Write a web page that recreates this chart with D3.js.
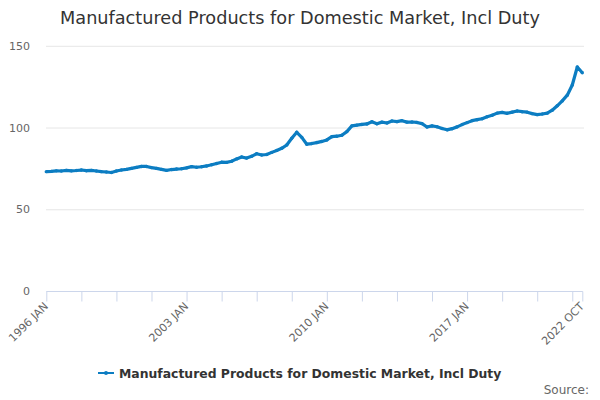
<!DOCTYPE html>
<html><head><meta charset="utf-8">
<script src="https://cdn.jsdelivr.net/npm/d3@7/dist/d3.min.js"></script>
<style>body{margin:0;background:#fff;} svg{display:block;font-family:"DejaVu Sans",sans-serif;}</style>
</head><body><svg id="c" width="600" height="400"></svg>
<script>
const title = "Manufactured Products for Domestic Market, Incl Duty";
const seriesName = "Manufactured Products for Domestic Market, Incl Duty";
const startYear = 1996;
// quarterly readings (Jan, Apr, Jul, Oct) from 1996 JAN to 2022 OCT
const values = [
73.0,73.2,73.5,73.4, 73.8,73.5,73.7,74.0, 73.6,73.8,73.4,73.0, 72.8,72.5,73.4,74.0,
74.4,75.0,75.6,76.2, 76.2,75.5,75.0,74.4, 73.8,74.3,74.6,74.8, 75.3,76.1,75.7,76.0,
76.5,77.2,78.0,78.8, 78.7,79.4,80.8,82.0, 81.3,82.4,84.0,83.2, 83.5,84.8,86.0,87.3,
89.3,93.4,97.1,94.0, 89.8,90.2,90.8,91.5, 92.4,94.4,94.7,95.3, 97.5,101.0,101.5,101.9,
102.2,103.5,102.3,103.3, 102.8,104.0,103.6,104.2, 103.3,103.4,103.1,102.4, 100.3,101.0,100.5,99.4,
98.6,99.3,100.4,101.8, 103.0,104.2,104.8,105.4, 106.6,107.5,108.8,109.3, 108.7,109.4,110.1,109.7,
109.4,108.5,107.9,108.3, 108.8,110.6,113.3,116.3, 119.8,126.0,137.0,133.5
];
const yTicks = [0,50,100,150];
const labelMonths = [0,84,168,252,321]; // months since 1996 JAN
const labelText = ["1996 JAN","2003 JAN","2010 JAN","2017 JAN","2022 OCT"];
const tickStep = 21;
const lastMonth = 321;

const data = values.map((v,i)=>({m:i*3, v}));
const svg = d3.select("#c");
const x = d3.scaleLinear().domain([0,lastMonth]).range([46.3,582.3]);
const y = d3.scaleLinear().domain([0,150]).range([291,45.8]);

// title
svg.append("text").attr("x",300).attr("y",24).attr("text-anchor","middle")
  .attr("font-size",17.7).attr("fill","#333").text(title);

// grid
svg.append("g").selectAll("line").data(yTicks.filter(d=>d>0)).join("line")
  .attr("x1",46).attr("x2",584).attr("y1",d=>y(d)+0.5).attr("y2",d=>y(d)+0.5)
  .attr("stroke","#e6e6e6");
// y labels
svg.append("g").selectAll("text").data(yTicks).join("text")
  .attr("x",30).attr("y",d=>y(d)+4).attr("text-anchor","end")
  .attr("font-size",11).attr("fill","#666").text(d=>d);

// x axis
const tickVals = d3.range(0,lastMonth,tickStep).concat([lastMonth]);
const xa = d3.axisBottom(x).tickValues(tickVals).tickSize(10).tickFormat("");
const gx = svg.append("g").attr("transform","translate(0,291.5)").call(xa);
gx.selectAll("path,line").attr("stroke","#ccd6eb");
gx.select(".domain").attr("d",`M46.3,0H582.8`);
svg.append("g").selectAll("text").data(labelMonths).join("text")
  .attr("transform",(d)=>`translate(${x(d)+2.5},${307}) rotate(-45)`)
  .attr("text-anchor","end").attr("font-size",11).attr("fill","#666")
  .text((d,i)=>labelText[i]);

// line
const line = d3.line().x(d=>x(d.m)).y(d=>y(d.v)).curve(d3.curveLinear);
svg.append("path").datum(data).attr("d",line).attr("fill","none")
  .attr("stroke","#0c7dc2").attr("stroke-width",3.2).attr("stroke-linejoin","round");
svg.append("g").selectAll("circle").data(data).join("circle")
  .attr("cx",d=>x(d.m)).attr("cy",d=>y(d.v)).attr("r",1.7).attr("fill","#0c7dc2");

// legend
const lg = svg.append("g");
lg.append("line").attr("x1",98).attr("x2",114).attr("y1",373).attr("y2",373)
  .attr("stroke","#0c7dc2").attr("stroke-width",2);
lg.append("circle").attr("cx",106).attr("cy",373).attr("r",2).attr("fill","#0c7dc2");
lg.append("text").attr("x",119).attr("y",377.5).attr("font-size",12.4).attr("font-weight","bold")
  .attr("fill","#333").text(seriesName);

svg.append("text").attr("x",589).attr("y",394).attr("text-anchor","end")
  .attr("font-size",12).attr("fill","#666").text("Source:");
</script></body></html>
